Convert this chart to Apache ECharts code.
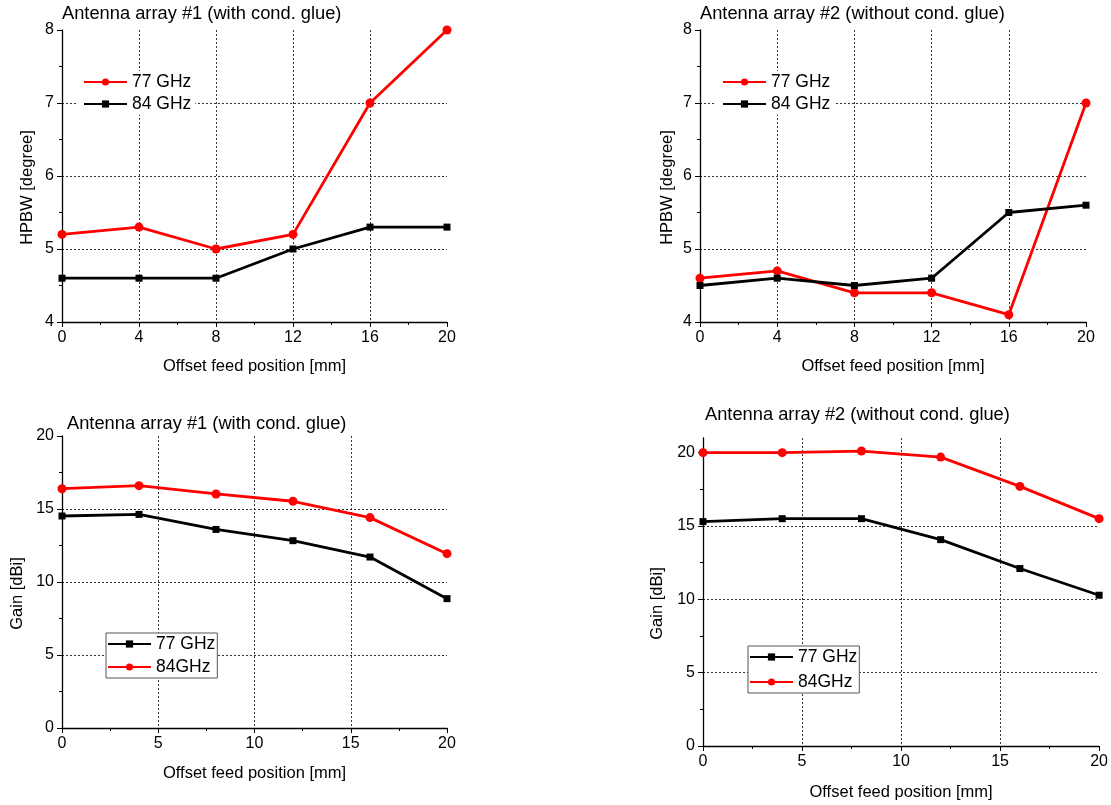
<!DOCTYPE html>
<html>
<head>
<meta charset="utf-8">
<script src="https://cdn.jsdelivr.net/npm/echarts@6/dist/echarts.min.js"></script>
<style>
html,body{margin:0;padding:0;background:#fff;}
#c{width:1111px;height:805px;}
</style>
</head>
<body>
<div id="c"></div>
<script>
// ---- data ----
const offsets = [0, 4, 8, 12, 16, 20];
const hpbw1_77 = [5.2, 5.3, 5.0, 5.2, 7.0, 8.0];
const hpbw1_84 = [4.6, 4.6, 4.6, 5.0, 5.3, 5.3];
const hpbw2_77 = [4.6, 4.7, 4.4, 4.4, 4.1, 7.0];
const hpbw2_84 = [4.5, 4.6, 4.5, 4.6, 5.5, 5.6];
const gain1_77 = [14.52, 14.63, 13.6, 12.83, 11.71, 8.86];
const gain1_84 = [16.39, 16.6, 16.03, 15.53, 14.41, 11.94];
const gain2_77 = [15.3, 15.5, 15.5, 14.07, 12.1, 10.28];
const gain2_84 = [20.0, 20.0, 20.11, 19.7, 17.7, 15.5];
const gain2Ticks = [0, 5, 10, 15, 20];
const gain2MinorTicks = [2.5, 7.5, 12.5, 17.5];
const titles = ['Antenna array #1 (with cond. glue)', 'Antenna array #2 (without cond. glue)',
                'Antenna array #1 (with cond. glue)', 'Antenna array #2 (without cond. glue)'];
const xName = 'Offset feed position [mm]';
const yNames = ['HPBW [degree]', 'HPBW [degree]', 'Gain [dBi]', 'Gain [dBi]'];
const legendTop = ['77 GHz', '84 GHz'];
const legendBottom = ['77 GHz', '84GHz'];

// ---- styles ----
const FONT = '"Liberation Sans", Arial, Helvetica, sans-serif';
const RED = '#ff0000', BLACK = '#000000';
const grids = [
  {left: 62, top: 30, width: 385, height: 292},
  {left: 700, top: 30, width: 386, height: 292},
  {left: 62, top: 436, width: 385, height: 292},
  {left: 703, top: 438, width: 398, height: 308}
];
const xCfg = [
  {interval: 4, gap: 36},
  {interval: 4, gap: 36},
  {interval: 5, gap: 37},
  {interval: 5, gap: 38}
];
const yCfg = [
  {min: 4, max: 8, interval: 1, gap: 26.5},
  {min: 4, max: 8, interval: 1, gap: 24.5},
  {min: 0, max: 20, interval: 5, gap: 36.5},
  {min: 0, max: 21, interval: 5, gap: 37.5}
];
const gridLine = {show: true, showMinLine: false, showMaxLine: false,
  lineStyle: {color: '#333', width: 1, type: [2, 2]}};

function pairs(ys) { return offsets.map((x, i) => [x, ys[i]]); }

const xAxis = grids.map((g, i) => ({
  gridIndex: i, type: 'value', min: 0, max: 20, interval: xCfg[i].interval,
  name: xName, nameLocation: 'middle', nameGap: xCfg[i].gap,
  nameTextStyle: {fontFamily: FONT, fontSize: 16.5, color: '#000'},
  axisLine: {show: true, onZero: false, lineStyle: {color: '#000', width: 1.3}},
  axisTick: {show: true, length: 5, lineStyle: {color: '#000', width: 1}},
  minorTick: {show: true, splitNumber: 2, length: 3, lineStyle: {color: '#000', width: 1}},
  axisLabel: {fontFamily: FONT, fontSize: 16, color: '#000', margin: 8},
  splitLine: gridLine
}));
const yAxis = grids.map((g, i) => {
  const ax = {
    gridIndex: i, type: 'value', position: 'left',
    min: yCfg[i].min, max: yCfg[i].max, interval: yCfg[i].interval,
    name: yNames[i], nameLocation: 'middle', nameGap: yCfg[i].gap,
    nameTextStyle: {fontFamily: FONT, fontSize: 16.5, color: '#000', padding: [0, 23, 0, 0]},
    axisLine: {show: true, onZero: false, lineStyle: {color: '#000', width: 1.3}},
    axisTick: {show: true, length: 5, lineStyle: {color: '#000', width: 1}},
    minorTick: {show: true, splitNumber: 2, length: 3, lineStyle: {color: '#000', width: 1}},
    axisLabel: {fontFamily: FONT, fontSize: 16, color: '#000', margin: 8},
    splitLine: gridLine
  };
  if (i === 3) {
    ax.axisTick.customValues = gain2Ticks;
    ax.axisLabel.customValues = gain2Ticks;
    ax.minorTick = {show: false};
  }
  return ax;
});
// minor ticks for panel 4 (axis max 21 is not a multiple of the interval)
yAxis.push({
  gridIndex: 3, type: 'value', position: 'left', min: 0, max: 21,
  axisLine: {show: false}, axisLabel: {show: false}, splitLine: {show: false},
  axisTick: {show: true, customValues: gain2MinorTicks, length: 3, lineStyle: {color: '#000', width: 1}}
});

function mk(name, gi, ys, color, symbol, size) {
  return {
    name: name, type: 'line', xAxisIndex: gi, yAxisIndex: gi, data: pairs(ys),
    symbol: symbol, symbolSize: size, showSymbol: true,
    lineStyle: {color: color, width: 2.8}, itemStyle: {color: color},
    emphasis: {disabled: true}, animation: false, clip: true, z: 3
  };
}
const series = [
  mk('p1|' + legendTop[0], 0, hpbw1_77, RED, 'circle', 9),
  mk('p1|' + legendTop[1], 0, hpbw1_84, BLACK, 'rect', 7),
  mk('p2|' + legendTop[0], 1, hpbw2_77, RED, 'circle', 9),
  mk('p2|' + legendTop[1], 1, hpbw2_84, BLACK, 'rect', 7),
  mk('p3|' + legendBottom[0], 2, gain1_77, BLACK, 'rect', 7),
  mk('p3|' + legendBottom[1], 2, gain1_84, RED, 'circle', 9),
  mk('p4|' + legendBottom[0], 3, gain2_77, BLACK, 'rect', 7),
  mk('p4|' + legendBottom[1], 3, gain2_84, RED, 'circle', 9)
];

function legend(prefix, names, left, top, opts) {
  return Object.assign({
    orient: 'vertical', left: left, top: top,
    data: names.map(n => prefix + '|' + n),
    formatter: n => n.split('|')[1],
    itemWidth: 43, itemHeight: 9, itemGap: 4,
    textStyle: {fontFamily: FONT, fontSize: 17.5, color: '#000'},
    selectedMode: false
  }, opts);
}
const legends = [
  legend('p1', legendTop, 76, 71, {padding: [2, 4, 2, 7], backgroundColor: '#fff'}),
  legend('p2', legendTop, 715, 71, {padding: [2, 4, 2, 7], backgroundColor: '#fff'}),
  legend('p3', legendBottom, 106, 633, {padding: [2, 2, 2, 1], itemGap: 5,
    backgroundColor: '#fff', borderColor: '#555', borderWidth: 1}),
  legend('p4', legendBottom, 748, 646, {padding: [2, 2, 2, 1], itemGap: 7,
    backgroundColor: '#fff', borderColor: '#555', borderWidth: 1})
];

const titlePos = [[62, 5], [700, 5], [67, 415], [705, 406]];
const title = titles.map((t, i) => ({
  text: t, left: titlePos[i][0], top: titlePos[i][1], padding: 0,
  textStyle: {fontFamily: FONT, fontSize: 18.3, fontWeight: 'normal', color: '#000'}
}));

const chart = echarts.init(document.getElementById('c'), null, {renderer: 'canvas'});
chart.setOption({
  backgroundColor: '#fff',
  animation: false,
  title: title,
  grid: grids,
  xAxis: xAxis,
  yAxis: yAxis,
  legend: legends,
  series: series
});
</script>
</body>
</html>
